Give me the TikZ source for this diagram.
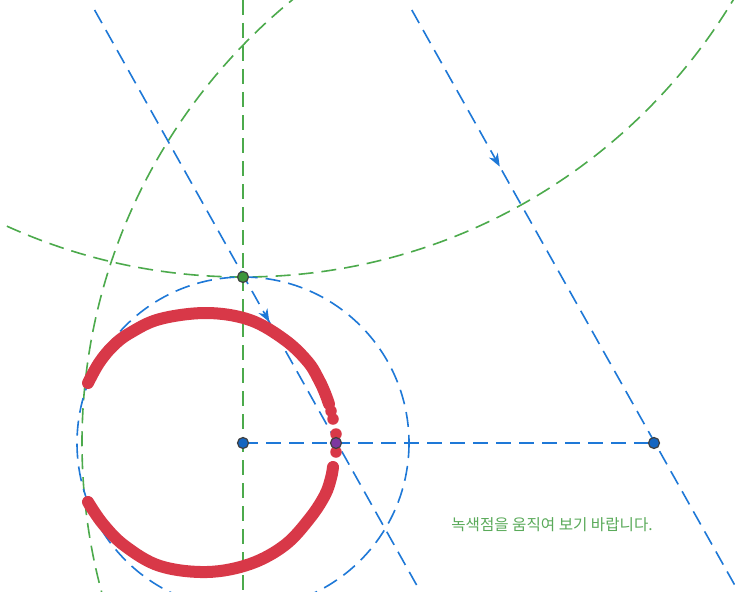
\documentclass[tikz,border=0pt]{standalone}
\usepackage{fontspec}
\newfontfamily\krfont{Noto Sans CJK KR}
\usetikzlibrary{arrows.meta,decorations.markings}
\definecolor{gline}{RGB}{76,170,76}
\definecolor{bline}{RGB}{30,120,215}
\definecolor{tracered}{RGB}{216,56,72}
\definecolor{bpoint}{RGB}{21,101,192}
\definecolor{gpoint}{RGB}{60,150,60}
\definecolor{ppoint}{RGB}{125,55,160}
\definecolor{gtext}{RGB}{90,170,90}
\tikzset{
  gdash/.style={draw=gline,line width=1.6pt,dash pattern=on 15pt off 8pt},
  bdash/.style={draw=bline,line width=1.6pt,dash pattern=on 15pt off 8pt},
  midarrow/.style={postaction={decorate},decoration={markings,
     mark=at position #1 with {\arrow[bline,solid]{Stealth[length=13pt,width=10pt,inset=4pt]}}}},
  trace/.style={draw=tracered,line width=12pt,line cap=round,line join=round},
  tdot/.style={circle,fill=tracered,inner sep=0pt,minimum size=11.5pt},
  ptdot/.style={circle,draw=black!75,line width=1.2pt,inner sep=0pt,minimum size=11pt},
}
\begin{document}
\begin{tikzpicture}[x=1pt,y=-1pt]
\useasboundingbox (0,0) rectangle (735,591);
\fill[white] (0,0) rectangle (735,591);
\clip (0,0) rectangle (735,591);
% key points
\coordinate (A) at (243,443);
\coordinate (B) at (654,443);
\coordinate (G) at (243,277);
\coordinate (P) at (336,443);
\coordinate (V1) at (243,0);
\coordinate (V2) at (243,591);
\coordinate (L1a) at (94.6,10);
\coordinate (L1b) at (419.4,590);
\coordinate (L2a) at (411.8,10);
\coordinate (L2b) at (737.5,590);
\coordinate (C1) at (243,-295);
% green construction
\draw[gdash] (V1) -- (V2);
\draw[gdash] (C1) circle[radius=572];
\draw[gdash] (B) circle[radius=572];
% blue construction
\draw[bdash] (A) circle[radius=166];
\draw[bdash] (A) -- (B);
\draw[bdash,midarrow=0.538] (L1a) -- (L1b);
\draw[bdash,midarrow=0.27] (L2a) -- (L2b);
% red trace
\draw[trace] plot[smooth,tension=0.6] coordinates {(88,383) (99,363) (113,346) (130,333) (160,319) (207,313) (250,320) (285,340) (308,362) (319,380) (325,393) (329,404)};
\draw[trace] plot[smooth,tension=0.6] coordinates {(333,467) (331,478) (325,495) (310,518) (285,545) (250,564) (207,572) (160,566) (125,546) (103,524) (88,502)};
\foreach \p/\q in {331/411,333/419,336/434,336/452}
  \node[tdot] at (\p,\q) {};
% points
\node[ptdot,fill=bpoint] (nA) at (A) {};
\node[ptdot,fill=bpoint] (nB) at (B) {};
\node[ptdot,fill=ppoint] (nP) at (P) {};
\node[ptdot,fill=gpoint] (nG) at (G) {};
% text
\node[text=gtext,font=\krfont\fontsize{15.6}{18}\selectfont] (msg) at (552,525) {녹색점을 움직여 보기 바랍니다.};
\end{tikzpicture}
\end{document}
